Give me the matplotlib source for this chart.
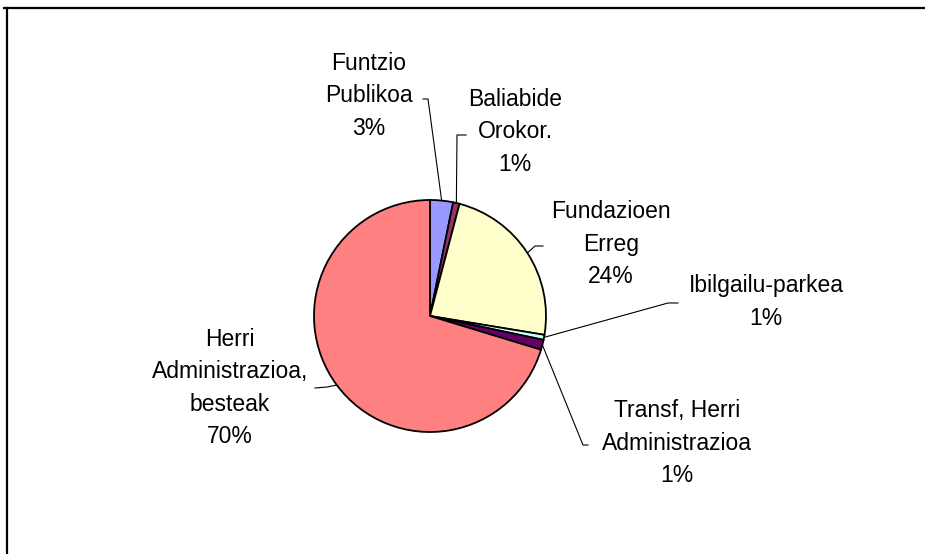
import numpy as np
import matplotlib.pyplot as plt

# slice data, clockwise from 12 o'clock
labels = ['Funtzio\nPublikoa', 'Baliabide\nOrokor.', 'Fundazioen\nErreg',
          'Ibilgailu-parkea', 'Transf, Herri\nAdministrazioa',
          'Herri\nAdministrazioa,\nbesteak']
values = [3.2, 0.9, 23.5, 0.7, 1.4, 70.3]
colors = ['#9999FF', '#993366', '#FFFFCC', '#CCFFFF', '#660066', '#FF8080']

# label layout in pixels (x, y from top), leader elbow and end points
text_pos = [(369, 96), (515, 132), (611, 244), (766, 302), (677, 443), (230, 388)]
elbows = [((428, 99), (423, 99)), ((457, 135), (466, 135)),
          ((535, 246), (543, 246)), ((668, 303), (678, 303)),
          ((583, 445), (588, 445)), ((327, 387), (315, 388))]

W, H = 925, 554
cx, cy, r = 430, 316, 116

plt.rcParams['font.family'] = ['Liberation Sans', 'DejaVu Sans']

fig = plt.figure(figsize=(W / 100, H / 100), dpi=100)
ax = fig.add_axes([0, 0, 1, 1])

wedges, _ = ax.pie(values, colors=colors, startangle=90, counterclock=False,
                   center=(cx, H - cy), radius=r, frame=True,
                   wedgeprops=dict(edgecolor='black', linewidth=1.3))

ax.set_xlim(0, W)
ax.set_ylim(0, H)
ax.axis('off')

total = sum(values)
cum = np.cumsum([0] + values)
for i, lab in enumerate(labels):
    pct = int(round(values[i] / total * 100))
    tx, ty = text_pos[i]
    ax.text(tx, H - ty, f'{lab}\n{pct}%', ha='center', va='center',
            fontsize=16.5, linespacing=1.53, color='black')
    # leader from wedge middle on the rim
    mid = np.deg2rad((cum[i] + cum[i + 1]) / 2 / total * 360)
    ax_x = cx + r * np.sin(mid)
    ax_y = cy - r * np.cos(mid)
    (ex, ey), (fx, fy) = elbows[i]
    ax.plot([ax_x, ex, fx], [H - ax_y, H - ey, H - fy], color='black', lw=0.8)

# chart area frame (top and left edges visible)
ax.plot([4, W], [H - 8, H - 8], color='black', lw=1.6, clip_on=False)
ax.plot([7, 7], [H - 8, 0], color='black', lw=1.6, clip_on=False)

fig.savefig('out.png', dpi=100)
